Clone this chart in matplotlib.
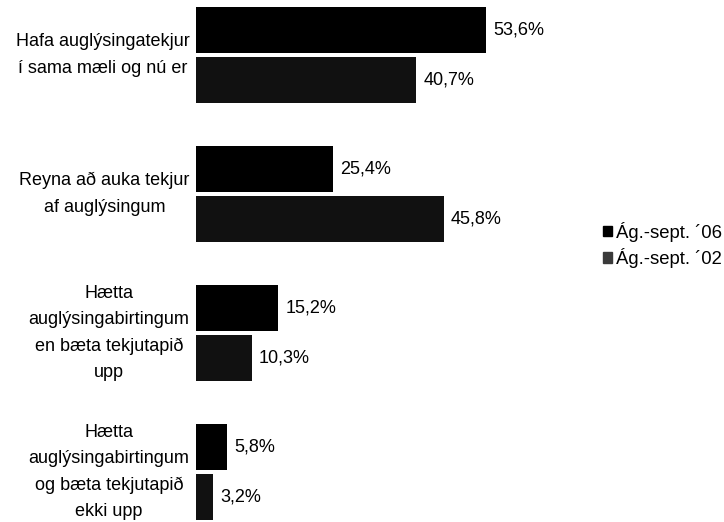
import matplotlib
matplotlib.use("Agg")
import matplotlib.pyplot as plt
from matplotlib.patches import Patch

categories = [
    "Hafa auglýsingatekjur\ní sama mæli og nú er",
    "Reyna að auka tekjur\naf auglýsingum",
    "Hætta\nauglýsingabirtingum\nen bæta tekjutapið\nupp",
    "Hætta\nauglýsingabirtingum\nog bæta tekjutapið\nekki upp",
]
series_names = ["Ág.-sept. ´06", "Ág.-sept. ´02"]
values_06 = [53.6, 25.4, 15.2, 5.8]
values_02 = [40.7, 45.8, 10.3, 3.2]

plt.rcParams['font.family'] = ['Liberation Sans', 'DejaVu Sans']

fig = plt.figure(figsize=(7.24, 5.22), dpi=100)
ax = fig.add_axes([196/724, 0.0, 1 - 196/724, 1.0])

bh = 0.33
off = 0.18
ys = list(range(len(categories)))
ax.barh([y - off for y in ys], values_06, height=bh, color="#000000", align="center")
ax.barh([y + off for y in ys], values_02, height=bh, color="#111111", align="center")

fs = 13
for y, v in zip(ys, values_06):
    ax.text(v + 1.3, y - off, f"{v:.1f}".replace(".", ",") + "%", va="center", ha="left", fontsize=fs)
for y, v in zip(ys, values_02):
    ax.text(v + 1.3, y + off, f"{v:.1f}".replace(".", ",") + "%", va="center", ha="left", fontsize=fs)

for y, lab in zip(ys, categories):
    ax.text(-1.2, y, lab, ha="right", va="center", multialignment="center",
            fontsize=fs, linespacing=1.72)

ax.set_xlim(0, 528/5.41)
ax.set_ylim(3.36, -0.396)
ax.axis("off")

handles = [Patch(color="#000000"), Patch(color="#3a3a3a")]
fig.legend(handles, series_names, loc="center left", bbox_to_anchor=(0.8325, 0.531),
           frameon=False, fontsize=13.3, handlelength=0.5, handleheight=0.5,
           handletextpad=0.2, labelspacing=0.35, borderaxespad=0, borderpad=0)

fig.savefig("out.png", dpi=100)
